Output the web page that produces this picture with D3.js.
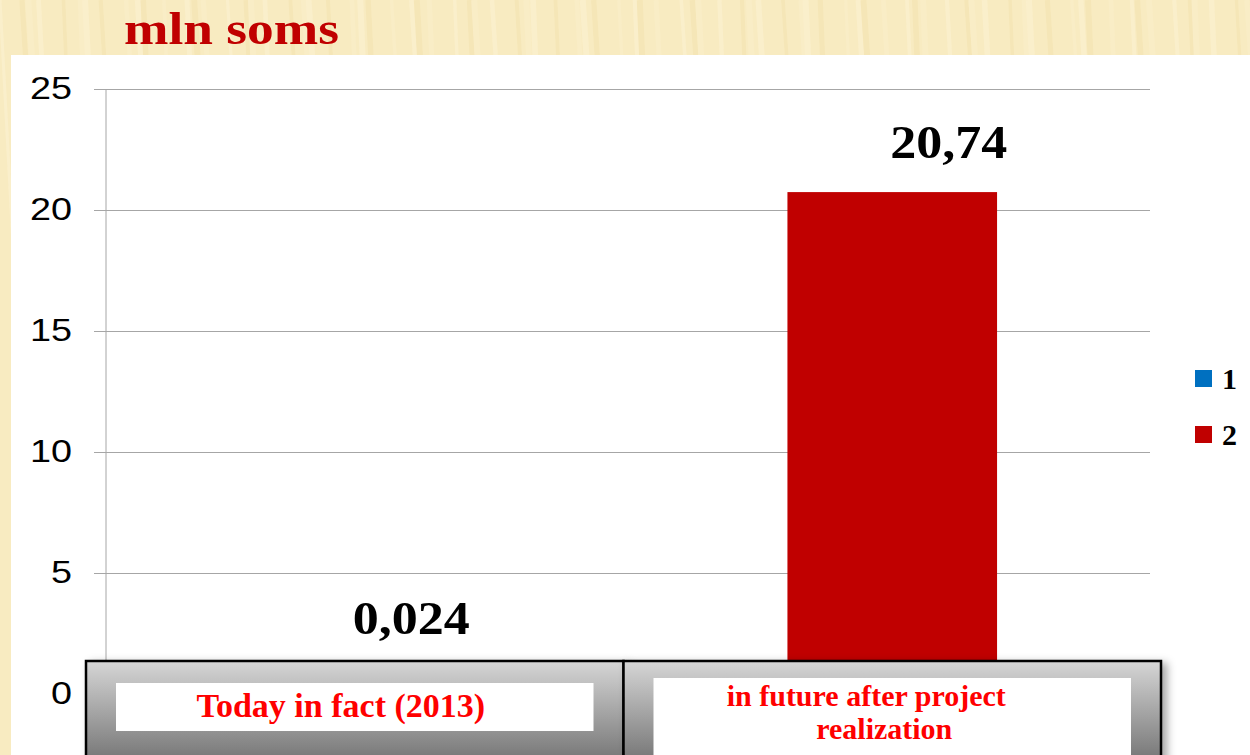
<!DOCTYPE html>
<html><head><meta charset="utf-8">
<script src="https://cdn.jsdelivr.net/npm/d3@7"></script>
<style>body{margin:0;background:#fff}svg{display:block}</style>
</head><body><svg id="chart" width="1250" height="755"></svg>
<script>
const title = "mln soms";
const categories = ["Today in fact (2013)", "in future after project realization"];
const categoryLines = [["Today in fact (2013)"], ["in future after project", "realization"]];
const seriesNames = ["1", "2"];
const values = [0.024, 20.74];
const valueLabels = ["0,024", "20,74"];
const seriesColors = ["#0070c0", "#c00000"];
const yTicks = [0, 5, 10, 15, 20, 25];

const W = 1250, H = 755;
const svg = d3.select("#chart");
const defs = svg.append("defs");

// paper background
svg.append("rect").attr("width", W).attr("height", H).attr("fill", "#f8ebc1");
const stripes = svg.append("g").attr("opacity", 0.5);
for (let i = 0; i < 90; i++) {
  const x = i * 15 + 7 * Math.sin(i * 1.7);
  stripes.append("line")
    .attr("x1", x).attr("y1", 0).attr("x2", x + 40 + 10 * Math.sin(i)).attr("y2", H)
    .attr("stroke", i % 3 === 0 ? "#fdf3d6" : (i % 3 === 1 ? "#f3e2ae" : "#fbefcc"))
    .attr("stroke-width", 3 + 3 * Math.abs(Math.sin(i * 2.3)));
}

// white chart panel
svg.append("rect").attr("x", 11).attr("y", 55).attr("width", W - 11).attr("height", H - 55).attr("fill", "#fff");

// title
svg.append("text").attr("x", 124).attr("y", 44)
  .attr("font-family", "Liberation Serif, Times New Roman, serif").attr("font-weight", "bold")
  .attr("font-size", 46).attr("fill", "#c00000")
  .attr("textLength", 215).attr("lengthAdjust", "spacingAndGlyphs")
  .text(title);

const x = d3.scaleBand().domain(categories).range([86, 1161]).padding(0);
const y = d3.scaleLinear().domain([0, 25]).range([694, 89]);
const boxTop = 661;

// gridlines + axis
const axis = d3.axisLeft(y).tickValues(yTicks).tickSize(12).tickPadding(22).tickFormat(d3.format("d"));
const gAxis = svg.append("g").attr("transform", "translate(106,0)").call(axis);
gAxis.select(".domain").remove();
gAxis.selectAll(".tick line").attr("stroke", "#a6a6a6").attr("x2", -12).attr("x1", 1150 - 106);
gAxis.selectAll(".tick text")
  .attr("font-family", "Liberation Sans, Arial, sans-serif").attr("font-size", 31).attr("fill", "#000")
  .attr("textLength", d => String(d).length * 21).attr("lengthAdjust", "spacingAndGlyphs");
svg.append("line").attr("x1", 106).attr("x2", 106).attr("y1", y(25)).attr("y2", boxTop)
  .attr("stroke", "#a6a6a6");

// bars
const barW = x.bandwidth() * 0.39;
svg.append("g").selectAll("rect").data(values).join("rect")
  .attr("x", (d, i) => x(categories[i]) + x.bandwidth() / 2 - barW / 2)
  .attr("y", d => y(d))
  .attr("width", barW)
  .attr("height", d => boxTop - y(d))
  .attr("fill", (d, i) => seriesColors[i]);

// value labels
svg.append("g").selectAll("text").data(values).join("text")
  .attr("x", (d, i) => x(categories[i]) + x.bandwidth() / 2 + x.bandwidth() * 0.105)
  .attr("y", d => Math.min(y(d) - 34, boxTop - 27))
  .attr("text-anchor", "middle")
  .attr("font-family", "Liberation Serif, Times New Roman, serif").attr("font-weight", "bold")
  .attr("font-size", 47).attr("fill", "#000")
  .attr("textLength", 117).attr("lengthAdjust", "spacingAndGlyphs")
  .text((d, i) => valueLabels[i]);

// category boxes
const grad = defs.append("linearGradient").attr("id", "boxGrad").attr("x1", 0).attr("y1", 0).attr("x2", 0).attr("y2", 1);
grad.append("stop").attr("offset", "0%").attr("stop-color", "#d6d6d6");
grad.append("stop").attr("offset", "100%").attr("stop-color", "#727272");
const sh = defs.append("filter").attr("id", "shadow").attr("x", "-5%").attr("y", "-20%").attr("width", "115%").attr("height", "150%");
sh.append("feDropShadow").attr("dx", 5).attr("dy", 3).attr("stdDeviation", 4).attr("flood-color", "#000").attr("flood-opacity", 0.35);

const boxes = svg.append("g");
boxes.selectAll("rect.cat").data(categories).join("rect").attr("class", "cat")
  .attr("x", d => x(d)).attr("y", boxTop).attr("width", x.bandwidth()).attr("height", H - boxTop + 10)
  .attr("fill", "url(#boxGrad)").attr("stroke", "#000").attr("stroke-width", 2.5)
  .attr("filter", "url(#shadow)");
boxes.selectAll("rect.wb").data(categories).join("rect").attr("class", "wb")
  .attr("x", d => x(d) + 30).attr("y", (d, i) => categoryLines[i].length > 1 ? 678 : 683)
  .attr("width", x.bandwidth() - 60).attr("height", (d, i) => categoryLines[i].length > 1 ? 90 : 48)
  .attr("fill", "#fff");
categories.forEach((c, i) => {
  const lines = categoryLines[i];
  const fs = lines.length > 1 ? 30 : 34;
  const t = boxes.append("text")
    .attr("text-anchor", "middle")
    .attr("font-family", "Liberation Serif, Times New Roman, serif").attr("font-weight", "bold")
    .attr("font-size", fs).attr("fill", "#ff0000");
  lines.forEach((ln, j) => {
    t.append("tspan").attr("x", x(c) + x.bandwidth() / 2 - (lines.length > 1 ? 26 : 14) + (j === 1 ? 18 : 0))
      .attr("y", lines.length > 1 ? 706 + j * 33 : 717).text(ln);
  });
});

// legend
const leg = svg.append("g");
seriesNames.forEach((s, i) => {
  const ly = 370 + i * 56;
  leg.append("rect").attr("x", 1195).attr("y", ly).attr("width", 17).attr("height", 17).attr("fill", seriesColors[i]);
  leg.append("text").attr("x", 1222).attr("y", ly + 19)
    .attr("font-family", "Liberation Serif, Times New Roman, serif").attr("font-weight", "bold")
    .attr("font-size", 30).attr("fill", "#000").text(s);
});
</script></body></html>
